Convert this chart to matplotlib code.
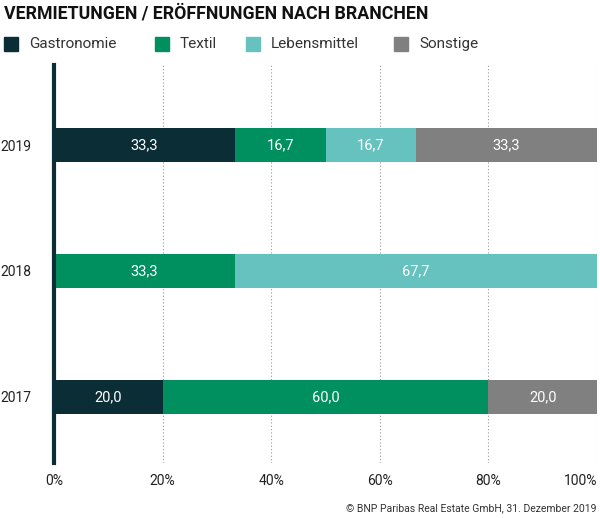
import matplotlib
matplotlib.use("Agg")
import matplotlib.pyplot as plt
from matplotlib.patches import Rectangle

plt.rcParams['font.family'] = ['Roboto', 'DejaVu Sans']

years = ["2017", "2018", "2019"]
categories = ["Gastronomie", "Textil", "Lebensmittel", "Sonstige"]
colors = ["#0b2d36", "#00905f", "#66c2bf", "#808080"]
values = {
    "Gastronomie": [20.0, 0.0, 33.3],
    "Textil": [60.0, 33.3, 16.7],
    "Lebensmittel": [0.0, 67.7, 16.7],
    "Sonstige": [20.0, 0.0, 33.3],
}

fig = plt.figure(figsize=(6, 5.18), dpi=100)
ax = fig.add_axes([54 / 600, 1 - 463 / 518, 543 / 600, 398 / 518])

ypos = range(len(years))
left = [0.0] * len(years)
for cat, col in zip(categories, colors):
    vals = values[cat]
    ax.barh(ypos, vals, left=left, height=0.27, color=col, zorder=3)
    for i, v in enumerate(vals):
        if v > 0:
            # centre of the visible part (2018 sums to 101 and is clipped at 100)
            cx = (left[i] + min(left[i] + v, 100)) / 2
            ax.text(cx, i, f"{v:.1f}".replace(".", ","), ha="center", va="center",
                    color="white", fontsize=10.5, zorder=4)
    left = [l + v for l, v in zip(left, vals)]

ax.set_xlim(0, 100)
ax.set_ylim(-0.524, 2.635)
ax.set_yticks(list(ypos))
ax.set_yticklabels(years, fontsize=10, color="#222222")
ax.set_xticks([0, 20, 40, 60, 80, 100])
ax.set_xticklabels(["0%", "20%", "40%", "60%", "80%", "100%"], fontsize=10, color="#222222")
ax.get_xticklabels()[-1].set_ha("right")
ax.tick_params(length=0, pad=8)
ax.tick_params(axis="y", pad=16)
ax.xaxis.grid(True, linestyle=(0, (1, 2)), color="#999999", linewidth=0.8, zorder=0)
for s in ["top", "right", "bottom"]:
    ax.spines[s].set_visible(False)
ax.spines["left"].set_linewidth(3)
ax.spines["left"].set_color("#0b2d36")
ax.spines["left"].set_zorder(5)

fig.text(4 / 600, 1 - 14 / 518, "VERMIETUNGEN / ERÖFFNUNGEN NACH BRANCHEN",
         fontsize=12.8, fontweight="bold", color="#111111", va="center", ha="left")

lx = [4, 155, 246, 394]
for x, cat, col in zip(lx, categories, colors):
    fig.patches.append(Rectangle((x / 600, 1 - 51 / 518), 14 / 600, 14 / 518,
                                 transform=fig.transFigure, color=col))
    fig.text((x + 25) / 600, 1 - 44 / 518, cat, fontsize=11, color="#333333",
             va="center", ha="left")

fig.text(596 / 600, 1 - 508 / 518, "© BNP Paribas Real Estate GmbH, 31. Dezember 2019",
         fontsize=7.5, color="#333333", ha="right", va="center")

fig.savefig("out.png", dpi=100)
